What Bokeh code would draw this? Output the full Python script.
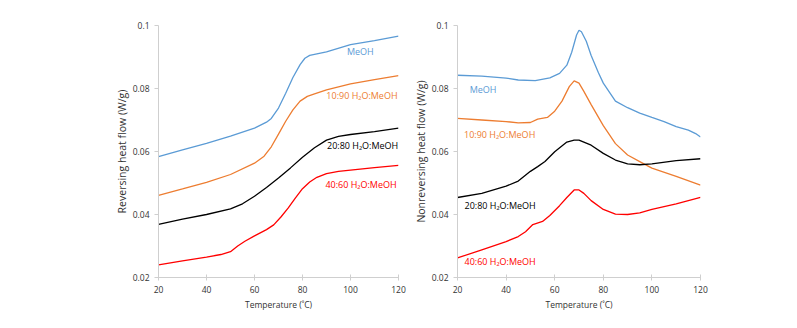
from bokeh.plotting import figure
from bokeh.layouts import row
from bokeh.models import FixedTicker, Label
from bokeh.embed import file_html
from bokeh.resources import INLINE

# ---------------- data ----------------
x_ticks = [20, 40, 60, 80, 100, 120]
y_ticks = [0.02, 0.04, 0.06, 0.08, 0.1]
y_tick_labels = ["0.02", "0.04", "0.06", "0.08", "0.1"]

series_names = ["MeOH", "10:90 H\u2082O:MeOH", "20:80 H\u2082O:MeOH", "40:60 H\u2082O:MeOH"]
series_colors = ["#5B9BD5", "#ED7D31", "#000000", "#FF0000"]

# Reversing heat flow
rev_meoh_T = [20, 30, 40, 50, 60, 65, 67, 70, 73, 76, 79, 81, 83, 86, 90, 100, 110, 120]
rev_meoh_Q = [0.0584, 0.0605, 0.0626, 0.0649, 0.0674, 0.0693, 0.0705, 0.0738, 0.0785, 0.0835,
              0.0876, 0.0896, 0.0905, 0.0910, 0.0916, 0.0939, 0.0952, 0.0966]
rev_1090_T = [20, 30, 40, 50, 60, 64, 67, 70, 73, 76, 79, 82, 85, 90, 100, 110, 120]
rev_1090_Q = [0.0461, 0.0481, 0.0502, 0.0527, 0.0563, 0.0585, 0.0615, 0.0655, 0.0696, 0.0732,
              0.0760, 0.0775, 0.0783, 0.0796, 0.0815, 0.0828, 0.0841]
rev_2080_T = [20, 30, 40, 50, 55, 60, 65, 70, 75, 80, 85, 90, 95, 100, 110, 120]
rev_2080_Q = [0.0369, 0.0385, 0.0400, 0.0418, 0.0434, 0.0458, 0.0486, 0.0516, 0.0548, 0.0582,
              0.0612, 0.0636, 0.0648, 0.0654, 0.0663, 0.0674]
rev_4060_T = [20, 30, 40, 46, 50, 53, 56, 60, 65, 68, 71, 74, 77, 80, 83, 86, 90, 95, 100, 110, 120]
rev_4060_Q = [0.0240, 0.0253, 0.0265, 0.0273, 0.0282, 0.0300, 0.0315, 0.0332, 0.0352, 0.0367,
              0.0392, 0.0420, 0.0452, 0.0482, 0.0503, 0.0518, 0.0530, 0.0537, 0.0541, 0.0549, 0.0556]

# Nonreversing heat flow
nrev_meoh_T = [20, 30, 40, 45, 52, 58, 62, 65, 67, 69, 70, 71, 73, 75, 78, 80, 85, 90, 95, 100,
               105, 110, 115, 118, 120]
nrev_meoh_Q = [0.0842, 0.0839, 0.0833, 0.0827, 0.0825, 0.0834, 0.0848, 0.0874, 0.0915, 0.0970,
               0.0985, 0.0980, 0.0950, 0.0905, 0.0850, 0.0817, 0.0760, 0.0739, 0.0722, 0.0708,
               0.0695, 0.0679, 0.0668, 0.0657, 0.0646]
nrev_1090_T = [20, 30, 40, 45, 50, 53, 57, 60, 63, 66, 68, 70, 72, 75, 80, 85, 90, 95, 100, 110, 120]
nrev_1090_Q = [0.0705, 0.0700, 0.0695, 0.0691, 0.0692, 0.0703, 0.0708, 0.0728, 0.0760, 0.0806,
               0.0824, 0.0817, 0.0791, 0.0749, 0.0682, 0.0625, 0.0589, 0.0568, 0.0547, 0.0521, 0.0493]
nrev_2080_T = [20, 30, 40, 45, 50, 53, 56, 60, 65, 68, 70, 75, 80, 85, 90, 95, 100, 110, 120]
nrev_2080_Q = [0.0454, 0.0467, 0.0490, 0.0506, 0.0537, 0.0552, 0.0568, 0.0599, 0.0630, 0.0636,
               0.0636, 0.0620, 0.0594, 0.0573, 0.0561, 0.0558, 0.0561, 0.0571, 0.0577]
nrev_4060_T = [20, 30, 40, 45, 48, 51, 55, 58, 62, 65, 68, 70, 72, 75, 80, 85, 90, 95, 100, 110, 120]
nrev_4060_Q = [0.0262, 0.0288, 0.0314, 0.0330, 0.0345, 0.0368, 0.0378, 0.0397, 0.0428, 0.0454,
               0.0478, 0.0478, 0.0467, 0.0444, 0.0416, 0.0401, 0.0400, 0.0405, 0.0416, 0.0434, 0.0454]

rev_series = [(rev_meoh_T, rev_meoh_Q), (rev_1090_T, rev_1090_Q),
              (rev_2080_T, rev_2080_Q), (rev_4060_T, rev_4060_Q)]
nrev_series = [(nrev_meoh_T, nrev_meoh_Q), (nrev_1090_T, nrev_1090_Q),
               (nrev_2080_T, nrev_2080_Q), (nrev_4060_T, nrev_4060_Q)]

FONT = "Open Sans"
AXIS_COLOR = "#cfcfcf"
TEXT_COLOR = "#333333"


def make_fig(width, bl, br, bt, bb, ylabel):
    p = figure(width=width, height=328, x_range=(20, 120), y_range=(0.02, 0.1),
               output_backend="svg", toolbar_location=None,
               min_border_left=bl, min_border_right=br, min_border_top=bt, min_border_bottom=bb)
    p.outline_line_color = None
    p.xgrid.grid_line_color = None
    p.ygrid.grid_line_color = None
    p.background_fill_color = "white"
    p.border_fill_color = "white"
    p.xaxis.ticker = FixedTicker(ticks=x_ticks)
    p.yaxis.ticker = FixedTicker(ticks=y_ticks)
    p.yaxis.major_label_overrides = {t: s for t, s in zip(y_ticks, y_tick_labels)}
    for ax in (p.xaxis, p.yaxis):
        ax.axis_line_color = AXIS_COLOR
        ax.major_tick_line_color = AXIS_COLOR
        ax.minor_tick_line_color = None
        ax.major_label_text_font = FONT
        ax.major_label_text_color = TEXT_COLOR
        ax.axis_label_text_font = FONT
        ax.axis_label_text_font_style = "normal"
        ax.axis_label_text_color = TEXT_COLOR
    p.xaxis.major_tick_in = 3
    p.xaxis.major_tick_out = 3
    p.yaxis.major_tick_in = 0
    p.yaxis.major_tick_out = 4
    p.xaxis.major_label_text_font_size = "8.5px"
    p.yaxis.major_label_text_font_size = "8.5px"
    p.xaxis.axis_label = "Temperature (\u02daC)"
    p.xaxis.axis_label_text_font_size = "8.5px"
    p.xaxis.axis_label_standoff = 3
    p.yaxis.axis_label = ylabel
    p.yaxis.axis_label_text_font_size = "10.5px"
    p.yaxis.axis_label_standoff = 1
    return p


p1 = make_fig(410, 158, 12, 25, 50, "Reversing heat flow (W/g)")
p2 = make_fig(387, 47, 97, 19, 51, "Nonreversing heat flow (W/g)")

for (T, Q), c in zip(rev_series, series_colors):
    p1.line(T, Q, line_color=c, line_width=1.3)
for (T, Q), c in zip(nrev_series, series_colors):
    p2.line(T, Q, line_color=c, line_width=1.3)

# series labels
rev_label_pos = [(98.5, 0.0919, "left"), (119.6, 0.0777, "right"),
                 (119.9, 0.0619, "right"), (119.2, 0.0495, "right")]
nrev_label_pos = [(25.0, 0.0796), (22.7, 0.0654), (22.9, 0.0430), (22.9, 0.0250)]

for name, c, (x, y, al) in zip(series_names, series_colors, rev_label_pos):
    p1.add_layout(Label(x=x, y=y, text=name, text_color=c, text_font=FONT,
                        text_font_size="9px", text_align=al, text_baseline="middle"))
for name, c, (x, y) in zip(series_names, series_colors, nrev_label_pos):
    p2.add_layout(Label(x=x, y=y, text=name, text_color=c, text_font=FONT,
                        text_font_size="9px", text_align="left", text_baseline="middle"))

layout = row(p1, p2)
open("out.html", "w").write(file_html(layout, INLINE))
